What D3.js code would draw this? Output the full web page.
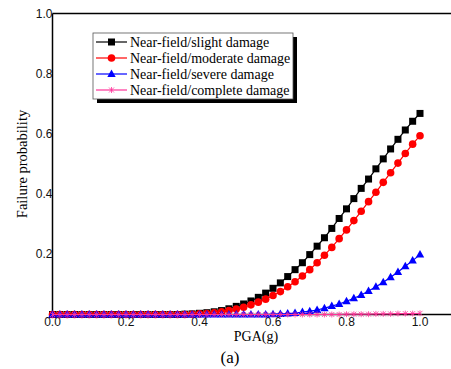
<!DOCTYPE html>
<html>
<head>
<meta charset="utf-8">
<script src="https://cdn.jsdelivr.net/npm/d3@7"></script>
<style>
  body { margin: 0; background: #fff; }
  svg { display: block; }
</style>
</head>
<body>
<div id="chart"></div>
<script>
// PGA steps 0.00 .. 1.00 every 0.02
const pga = d3.range(51).map(i => +(i * 0.02).toFixed(2));

// values, from PGA 0.00 to 1.00
const slight = [
  0, 0, 0, 0, 0, 0, 0, 0, 0, 0,
  0, 0, 0, 0, 0, 0, 0, 0, 0.001, 0.002,
  0.004, 0.006, 0.009, 0.013, 0.019, 0.027, 0.035, 0.045, 0.057, 0.071,
  0.087, 0.105, 0.126, 0.149, 0.172, 0.199, 0.227, 0.255, 0.286, 0.319,
  0.351, 0.385, 0.419, 0.450, 0.484, 0.517, 0.550, 0.582, 0.613, 0.642,
  0.668
];
const moderate = [
  0, 0, 0, 0, 0, 0, 0, 0, 0, 0,
  0, 0, 0, 0, 0, 0, 0, 0, 0, 0.001,
  0.002, 0.003, 0.006, 0.009, 0.013, 0.018, 0.024, 0.032, 0.041, 0.051,
  0.063, 0.076, 0.092, 0.109, 0.128, 0.149, 0.172, 0.197, 0.223, 0.252,
  0.281, 0.312, 0.343, 0.375, 0.406, 0.439, 0.471, 0.503, 0.535, 0.566,
  0.594
];
const severe = [
  0, 0, 0, 0, 0, 0, 0, 0, 0, 0,
  0, 0, 0, 0, 0, 0, 0, 0, 0, 0,
  0, 0, 0, 0, 0, 0, 0, 0, 0, 0,
  0.001, 0.002, 0.003, 0.005, 0.008, 0.011, 0.015, 0.021, 0.028, 0.035,
  0.044, 0.054, 0.065, 0.078, 0.092, 0.107, 0.124, 0.141, 0.160, 0.179,
  0.199
];
const complete = [
  0, 0, 0, 0, 0, 0, 0, 0, 0, 0,
  0, 0, 0, 0, 0, 0, 0, 0, 0, 0,
  0, 0, 0, 0, 0, 0, 0, 0, 0, 0,
  0, 0, 0, 0, 0, 0, 0, 0, 0, 0,
  0.001, 0.001, 0.001, 0.001, 0.002, 0.002, 0.002, 0.003, 0.003, 0.003,
  0.004
];

const seriesNames = [
  "Near-field/slight damage",
  "Near-field/moderate damage",
  "Near-field/severe damage",
  "Near-field/complete damage"
];
const seriesColors = ["#000000", "#ff0000", "#0000ff", "#ff3399"];
const seriesShapes = ["square", "circle", "triangle", "star"];
const seriesValues = [slight, moderate, severe, complete];

const xTicks = [0, 0.2, 0.4, 0.6, 0.8, 1.0];
const yTicks = [0.2, 0.4, 0.6, 0.8, 1.0];

const W = 451, H = 369;
const svg = d3.select("#chart").append("svg")
  .attr("width", W)
  .attr("height", H);

const x = d3.scaleLinear().domain([0, 1]).range([52.5, 420]);
const y = d3.scaleLinear().domain([0, 1]).range([314.5, 13.5]);

// frame: left, top and bottom lines, running off the right edge
svg.append("line")
  .attr("x1", x(0)).attr("x2", x(0))
  .attr("y1", y(1)).attr("y2", y(0))
  .attr("stroke", "#000").attr("stroke-width", 1.5);
svg.append("line")
  .attr("x1", x(0)).attr("x2", W)
  .attr("y1", y(1)).attr("y2", y(1))
  .attr("stroke", "#000").attr("stroke-width", 1.5);
svg.append("line")
  .attr("x1", x(0)).attr("x2", W)
  .attr("y1", y(0)).attr("y2", y(0))
  .attr("stroke", "#000").attr("stroke-width", 1.5);

// tick labels (no tick marks in the original)
const tickFont = "Liberation Sans, Arial, sans-serif";
svg.append("g").selectAll("text")
  .data(yTicks)
  .join("text")
  .attr("x", x(0))
  .attr("y", d => y(d) + 4)
  .attr("text-anchor", "end")
  .attr("font-family", tickFont)
  .attr("font-size", 12)
  .attr("fill", "#111")
  .text(d => d.toFixed(1));

svg.append("g").selectAll("text")
  .data(xTicks)
  .join("text")
  .attr("x", d => x(d))
  .attr("y", y(0) + 11)
  .attr("text-anchor", "middle")
  .attr("font-family", tickFont)
  .attr("font-size", 12)
  .attr("fill", "#111")
  .text(d => d.toFixed(1));

const serif = "Liberation Serif, Times New Roman, serif";
svg.append("text")
  .attr("transform", `translate(27, ${(y(0) + y(1)) / 2}) rotate(-90)`)
  .attr("text-anchor", "middle")
  .attr("font-family", serif)
  .attr("font-size", 14.5)
  .text("Failure probability");

svg.append("text")
  .attr("x", 256)
  .attr("y", 341)
  .attr("text-anchor", "middle")
  .attr("font-family", serif)
  .attr("font-size", 14)
  .text("PGA(g)");

svg.append("text")
  .attr("x", 230)
  .attr("y", 363)
  .attr("text-anchor", "middle")
  .attr("font-family", serif)
  .attr("font-size", 17)
  .text("(a)");

// marker drawing
function marker(sel, shape, color) {
  if (shape === "square") {
    sel.append("rect")
      .attr("x", -3.5).attr("y", -3.5)
      .attr("width", 7).attr("height", 7)
      .attr("fill", color);
  } else if (shape === "circle") {
    sel.append("circle").attr("r", 3.8).attr("fill", color);
  } else if (shape === "triangle") {
    sel.append("path")
      .attr("d", "M0,-4.5L4.2,3L-4.2,3Z")
      .attr("fill", color);
  } else {
    sel.append("path")
      .attr("d", "M-2.5,-2.5L2.5,2.5M-2.5,2.5L2.5,-2.5M0,-3L0,3")
      .attr("stroke", color)
      .attr("stroke-width", 0.8)
      .attr("fill", "none");
  }
}

const line = d3.line()
  .x(d => x(d[0]))
  .y(d => y(d[1]));

seriesValues.forEach((vals, i) => {
  const pts = pga.map((p, j) => [p, vals[j]]);
  const g = svg.append("g");
  g.append("path")
    .datum(pts)
    .attr("d", line)
    .attr("fill", "none")
    .attr("stroke", seriesColors[i])
    .attr("stroke-width", 1.2);
  g.selectAll("g.m")
    .data(pts)
    .join("g")
    .attr("class", "m")
    .attr("transform", d => `translate(${x(d[0])},${y(d[1])})`)
    .each(function () { marker(d3.select(this), seriesShapes[i], seriesColors[i]); });
});

// legend with drop shadow
const lg = svg.append("g").attr("transform", "translate(93,33)");
const lw = 200, lh = 66;
lg.append("rect")
  .attr("x", 4).attr("y", 4)
  .attr("width", lw).attr("height", lh)
  .attr("fill", "#000");
lg.append("rect")
  .attr("x", 0).attr("y", 0)
  .attr("width", lw).attr("height", lh)
  .attr("fill", "#fff")
  .attr("stroke", "#555")
  .attr("stroke-width", 0.8);

seriesNames.forEach((name, i) => {
  const row = lg.append("g").attr("transform", `translate(0, ${9 + i * 16})`);
  row.append("line")
    .attr("x1", 3).attr("x2", 34)
    .attr("stroke", seriesColors[i])
    .attr("stroke-width", 1.2);
  marker(row.append("g").attr("transform", "translate(18.5,0)"), seriesShapes[i], seriesColors[i]);
  row.append("text")
    .attr("x", 37)
    .attr("y", 4.5)
    .attr("font-family", serif)
    .attr("font-size", 14)
    .text(name);
});
</script>
</body>
</html>
